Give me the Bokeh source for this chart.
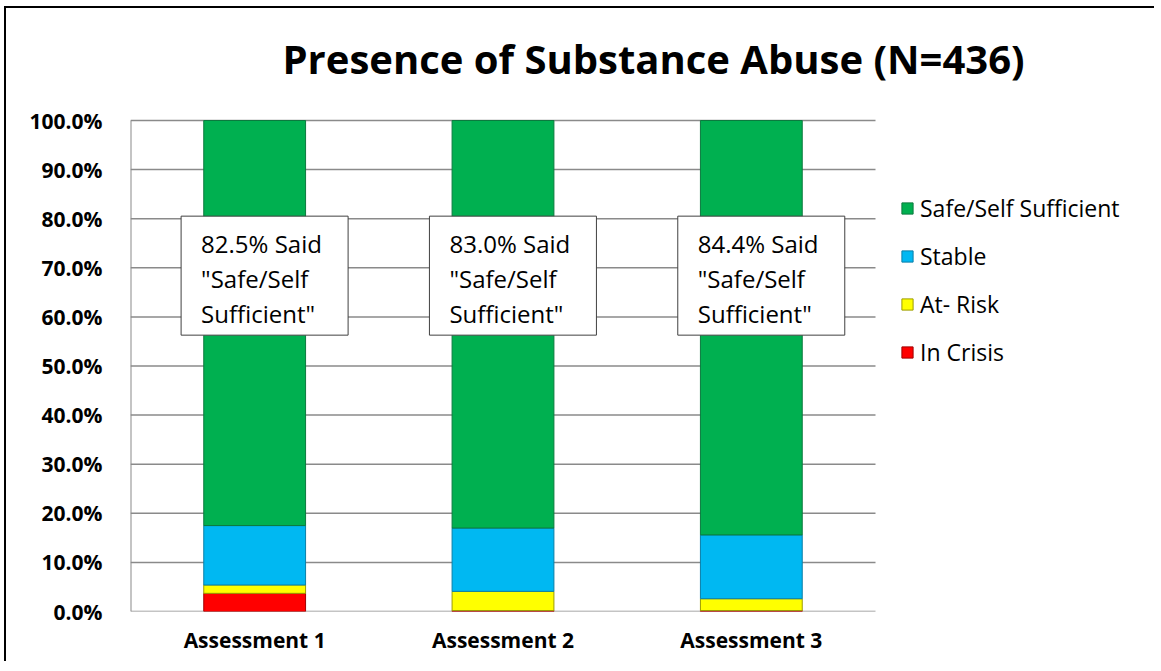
from bokeh.plotting import figure
from bokeh.models import (ColumnDataSource, Range1d, FixedTicker, PrintfTickFormatter,
                          Legend, LegendItem, InlineStyleSheet)
from bokeh.core.properties import value
from bokeh.embed import file_html
from bokeh.resources import INLINE

# ---- data ----
title_text = "Presence of Substance Abuse (N=436)"
categories = ["Assessment 1", "Assessment 2", "Assessment 3"]
in_crisis = [3.7, 0.2, 0.2]
at_risk = [1.7, 3.9, 2.4]
stable = [12.1, 12.9, 13.0]
safe = [82.5, 83.0, 84.4]
series_names = ["In Crisis", "At- Risk", "Stable", "Safe/Self Sufficient"]
y_ticks = [0, 10, 20, 30, 40, 50, 60, 70, 80, 90, 100]

colors = ["#FF0000", "#FFFF00", "#00B8F2", "#00B050"]
edge_colors = ["#A00000", "#9C9C00", "#0A7FA8", "#0B7A3E"]
FONT = "Open Sans"
GRID = "#8a8a8a"

n = len(categories)
xpos = [i + 1 for i in range(n)]
keys = ["crisis", "risk", "stable", "safe"]
src = ColumnDataSource(dict(x=xpos, crisis=in_crisis, risk=at_risk, stable=stable, safe=safe))

# ---- layout (pixels) ----
W, H = 1150, 655
BL, BR, BT, BB = 124, 5, 0, 52
PLOT_W, PLOT_H = 745, 491          # gridded plot area
FRAME_W = W - BL - BR
FRAME_H = H - BT - BB
x_start = 0.5
x_grid_end = x_start + n
x_end = x_start + n * FRAME_W / PLOT_W
y_max = max(y_ticks)
y_end = y_max * FRAME_H / PLOT_H   # frame also holds the title area

p = figure(width=W, height=H, output_backend="svg", toolbar_location=None,
           x_range=Range1d(x_start, x_end), y_range=Range1d(0, y_end),
           min_border_left=BL, min_border_right=BR, min_border_top=BT, min_border_bottom=BB)
p.stylesheets = [InlineStyleSheet(css=":host { margin-left: 6px; margin-top: 8px; "
                                      "box-shadow: -2px -2px 0 0 #000000; }")]
p.outline_line_color = None

# title drawn inside the frame
p.text(x=[x_start], y=[y_end], text=[title_text], x_offset=152, y_offset=50,
       text_font=value(FONT), text_font_size="40px", text_font_style="bold",
       text_color="#000000", text_align="left", text_baseline="alphabetic")

# gridlines and axis line limited to the plot area
p.segment(x0=[x_start] * len(y_ticks), x1=[x_grid_end] * len(y_ticks), y0=y_ticks, y1=y_ticks,
          line_color=GRID, line_width=1.5)
p.segment(x0=[x_start], x1=[x_start], y0=[0], y1=[y_max], line_color=GRID, line_width=2)

renderers = p.vbar_stack(keys, x="x", width=0.41, source=src,
                         fill_color=colors, line_color=edge_colors, line_width=1)

# annotation boxes
box_shift = 0.04
box_x = [x + box_shift for x in xpos]
box_y = [68.4] * n
p.rect(x=box_x, y=box_y, width=167, height=119, width_units="screen", height_units="screen",
       fill_color="white", line_color="#404040", line_width=1)
texts = ['%.1f%% Said\n"Safe/Self\nSufficient"' % s for s in safe]
p.text(x=box_x, y=[67.8] * n, text=texts, x_offset=-63.5,
       text_font=value(FONT), text_font_size="24px", text_color="#000000",
       text_align="left", text_baseline="middle", text_line_height=1.05)

# axes
p.xaxis.ticker = FixedTicker(ticks=xpos)
p.xaxis.major_label_overrides = {x: c for x, c in zip(xpos, categories)}
p.xaxis.major_label_text_font = FONT
p.xaxis.major_label_text_font_size = "21px"
p.xaxis.major_label_text_font_style = "bold"
p.xaxis.major_label_text_color = "#000000"
p.xaxis.major_label_standoff = 8
p.xaxis.major_tick_line_color = None
p.xaxis.minor_tick_line_color = None
p.xaxis.axis_line_color = None

p.yaxis.ticker = FixedTicker(ticks=y_ticks)
p.yaxis.formatter = PrintfTickFormatter(format="%.1f%%")
p.yaxis.major_label_text_font = FONT
p.yaxis.major_label_text_font_size = "21px"
p.yaxis.major_label_text_font_style = "bold"
p.yaxis.major_label_text_color = "#000000"
p.yaxis.major_label_standoff = 22
p.yaxis.major_tick_line_color = None
p.yaxis.minor_tick_line_color = None
p.yaxis.axis_line_color = None

p.xgrid.grid_line_color = None
p.ygrid.grid_line_color = None

items = [LegendItem(label=series_names[i], renderers=[renderers[i]]) for i in range(3, -1, -1)]
legend = Legend(items=items, location=(770, 243), orientation="vertical",
                label_text_font=FONT, label_text_font_size="23px", label_text_color="#000000",
                glyph_width=14, glyph_height=14, label_standoff=6, spacing=16,
                padding=0, margin=0, border_line_color=None, background_fill_color=None)
p.add_layout(legend, "center")

open("out.html", "w").write(file_html(p, INLINE))
